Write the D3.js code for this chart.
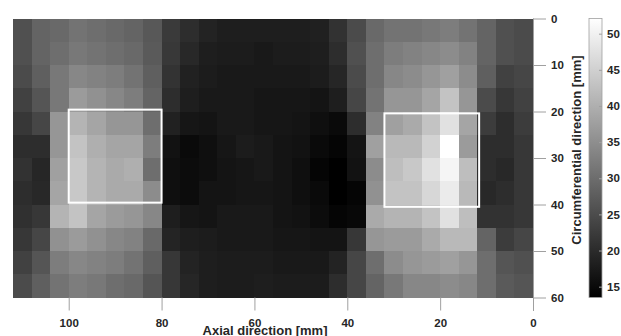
<!DOCTYPE html>
<html>
<head>
<meta charset="utf-8">
<script src="https://cdn.jsdelivr.net/npm/d3@7"></script>
<style>
  html, body { margin: 0; padding: 0; background: #fff; }
  svg { display: block; }
  text { font-family: "Liberation Sans", Arial, Helvetica, sans-serif; font-weight: bold; fill: #262626; }
</style>
</head>
<body>
<svg id="chart" width="621" height="336"></svg>
<script>
// ---- Data ----
// column centres along the axial direction [mm] (left to right in the picture)
const axialCenters = [110,106,102,98,94,90,86,82,78,74,70,66,62,58,54,50,46,42,38,34,30,26,22,18,14,10,6,2];
// row centres along the circumferential direction [mm] (top to bottom)
const circCenters = [2.5,7.5,12.5,17.5,22.5,27.5,32.5,37.5,42.5,47.5,52.5,57.5];
// cell values, one row per circumferential position
const row0  = [25.6,28.6,29.4,30.9,30.2,29.4,28.6,26.8,22.3,20.3,18.8,18.0,18.0,18.0,18.0,18.0,18.3,21.1,24.9,29.4,30.9,30.9,31.7,32.4,30.9,28.6,25.6,24.9];
const row1  = [25.6,28.6,30.2,31.7,30.9,30.2,29.4,27.1,22.0,19.6,18.0,17.7,17.7,17.3,17.7,17.7,18.0,20.3,25.6,30.2,32.4,33.2,33.9,34.7,33.2,28.6,25.6,24.9];
const row2  = [24.9,27.9,31.7,33.9,33.2,32.4,30.9,27.9,21.2,18.5,17.7,17.3,17.3,17.3,17.3,17.3,17.7,19.3,24.9,30.2,33.9,34.7,36.2,37.7,34.7,27.9,23.3,24.1];
const row3  = [23.3,26.4,31.7,37.0,35.5,33.9,32.4,28.6,20.3,18.0,17.3,17.3,17.3,16.8,16.8,16.8,16.5,18.0,24.1,30.9,36.2,36.2,38.5,43.0,36.2,24.9,21.8,23.3];
const row4  = [21.8,24.1,36.2,40.8,38.5,36.2,36.2,30.2,18.5,16.8,16.5,17.3,17.3,16.8,16.8,16.5,15.8,15.0,20.3,33.2,37.7,39.2,43.0,47.6,38.5,22.6,20.3,22.6];
const row5  = [20.3,20.3,36.2,43.0,40.0,38.5,38.5,32.4,16.2,15.0,15.8,16.8,17.7,17.3,16.5,16.2,15.0,14.3,16.5,37.7,41.5,41.5,45.3,52.1,37.0,20.3,20.3,21.8];
const row6  = [21.1,19.3,37.7,43.8,40.8,39.2,40.0,30.2,15.8,15.3,15.8,16.5,16.8,17.3,16.5,15.8,14.3,13.5,16.2,34.7,42.3,43.8,47.6,50.6,42.3,20.3,19.6,21.8];
const row7  = [20.3,19.6,38.5,43.8,40.8,39.2,39.2,34.7,15.8,15.3,16.5,16.5,16.8,16.8,16.5,15.8,15.0,13.5,14.3,35.5,43.0,43.0,46.0,49.1,41.5,19.6,20.3,21.8];
const row8  = [20.8,21.8,40.8,43.0,38.5,37.0,36.2,33.9,18.0,16.8,16.5,17.3,17.3,17.3,16.5,16.2,15.3,14.3,14.7,39.2,40.8,40.8,43.0,47.6,42.3,21.1,21.1,21.8];
const row9  = [21.8,24.1,35.5,37.0,35.5,33.9,33.2,29.4,19.0,18.0,17.7,17.3,17.3,17.3,16.8,16.8,16.5,16.5,21.8,36.2,37.0,37.0,39.2,41.5,41.5,28.6,22.6,24.1];
const row10 = [23.3,26.4,32.4,33.9,33.2,32.4,30.9,27.9,21.8,18.8,18.0,17.7,17.7,17.7,17.3,17.3,17.3,18.8,24.1,30.2,34.7,36.2,37.0,37.7,36.2,30.2,26.4,25.6];
const row11 = [24.9,27.9,30.9,32.4,31.7,30.2,29.4,26.4,21.8,19.3,18.0,17.7,17.7,18.0,17.7,17.7,17.7,20.3,24.1,28.6,31.7,33.9,33.9,34.7,33.9,30.2,27.1,26.4];
const valueRows = [row0,row1,row2,row3,row4,row5,row6,row7,row8,row9,row10,row11];

const xTicks = [100,80,60,40,20,0];
const yTicks = [0,10,20,30,40,50,60];
const colorTicks = [15,20,25,30,35,40,45,50];
const colorDomain = [13.5,52.1];
// regions of interest: [axial from, axial to, circ from, circ to]
const boxLeft  = [100, 80, 19.6, 39.6];
const boxRight = [32, 11.6, 20.4, 40.5];

const cellW = 4, cellH = 5;

// ---- Layout ----
const svg = d3.select("#chart");
const x = d3.scaleLinear().domain([112, 0]).range([13, 533]);
const y = d3.scaleLinear().domain([0, 60]).range([18.5, 297.5]);
const color = d3.scaleLinear().domain(colorDomain).range(["#000000", "#ffffff"]).clamp(true);

// cells
const cells = [];
valueRows.forEach((r, j) => r.forEach((v, i) => cells.push({a: axialCenters[i], c: circCenters[j], v})));
svg.append("g").selectAll("rect").data(cells).join("rect")
  .attr("x", d => x(d.a + cellW/2))
  .attr("y", d => y(d.c - cellH/2))
  .attr("width", d => x(d.a - cellW/2) - x(d.a + cellW/2) + 0.6)
  .attr("height", d => y(d.c + cellH/2) - y(d.c - cellH/2) + 0.6)
  .attr("fill", d => color(d.v))
  .attr("shape-rendering", "crispEdges");

// boxes
[boxLeft, boxRight].forEach(b => {
  svg.append("rect")
    .attr("x", x(b[0])).attr("y", y(b[2]))
    .attr("width", x(b[1]) - x(b[0])).attr("height", y(b[3]) - y(b[2]))
    .attr("fill", "none").attr("stroke", "#fff").attr("stroke-width", 2);
});

// x axis (bottom, ticks outward)
const xAxis = d3.axisBottom(x).tickValues(xTicks).tickSize(13).tickPadding(8).tickFormat(d3.format("d"));
const gx = svg.append("g").attr("transform", "translate(0,297.5)").call(xAxis);
gx.select(".domain").remove();
gx.selectAll(".tick line").attr("stroke", "#a0a0a0");
gx.selectAll(".tick text").style("font-size", "11.5px").attr("fill", "#262626");

// y axis (right)
const yAxis = d3.axisRight(y).tickValues(yTicks).tickSize(13).tickPadding(5).tickFormat(d3.format("d"));
const gy = svg.append("g").attr("transform", "translate(533,0)").call(yAxis);
gy.select(".domain").attr("stroke", "#a0a0a0").attr("d", "M0.5,18.5V311");
gy.selectAll(".tick line").attr("stroke", "#a0a0a0");
gy.selectAll(".tick text").style("font-size", "11.5px").attr("fill", "#262626");

// axis titles
svg.append("text").attr("x", 265).attr("y", 334.5).attr("text-anchor", "middle")
  .style("font-size", "13px").text("Axial direction [mm]");
svg.append("text").attr("transform", "translate(581,150) rotate(-90)").attr("text-anchor", "middle")
  .style("font-size", "13px").text("Circumferential direction [mm]");

// colorbar
const cb = d3.scaleLinear().domain(colorDomain).range([297.5, 18.5]);
const defs = svg.append("defs");
const grad = defs.append("linearGradient").attr("id", "cbgrad").attr("x1", 0).attr("y1", 1).attr("x2", 0).attr("y2", 0);
grad.append("stop").attr("offset", 0).attr("stop-color", color(colorDomain[0]));
grad.append("stop").attr("offset", 1).attr("stop-color", color(colorDomain[1]));
svg.append("rect").attr("x", 589).attr("y", 18.5).attr("width", 13).attr("height", 279)
  .attr("fill", "url(#cbgrad)").attr("stroke", "#a0a0a0").attr("stroke-width", 0.8);
const cbAxis = d3.axisRight(cb).tickValues(colorTicks).tickSize(3).tickPadding(6).tickFormat(d3.format("d"));
const gcb = svg.append("g").attr("transform", "translate(602,0)").call(cbAxis);
gcb.select(".domain").remove();
gcb.selectAll(".tick line").attr("stroke", "#a0a0a0").attr("x2", -3);
gcb.selectAll(".tick text").style("font-size", "11.5px").attr("fill", "#262626").attr("x", 5);
</script>
</body>
</html>
